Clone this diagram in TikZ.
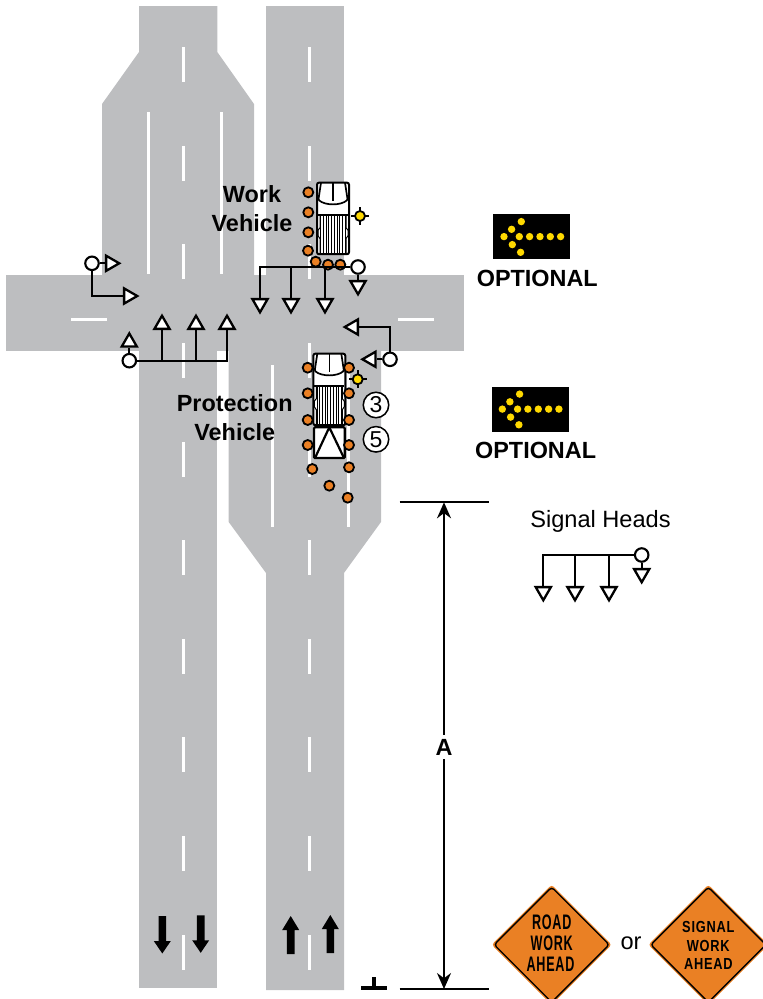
\documentclass[tikz,border=0pt]{standalone}
\usepackage{fontspec}
\usepackage{xcolor}
\usepackage{tikz}
\usetikzlibrary{arrows.meta,shapes.geometric,calc}
\setmainfont{Liberation Sans}
\newfontfamily\signfont[LetterSpace=6]{Liberation Sans}
\definecolor{road1}{RGB}{189,190,192}
\definecolor{orange1}{RGB}{234,128,36}
\definecolor{yellow1}{RGB}{255,217,0}
\tikzset{
  lamp/.style={circle, draw, fill=white, line width=2.1pt, minimum size=13.5pt, inner sep=0pt},
  sighead/.style={regular polygon, regular polygon sides=3, draw, fill=white, line width=2.3pt,
    minimum size=17.5pt, inner sep=0pt, shape border rotate=#1},
  sigline/.style={line width=2.2pt},
  cone/.style={circle, draw, fill=orange1, line width=1.8pt, minimum size=10pt, inner sep=0pt},
  bold lbl/.style={font=\fontsize{23.4}{29}\selectfont\bfseries, align=center, inner sep=0pt},
  plain lbl/.style={font=\fontsize{23.6}{29}\selectfont, inner sep=0pt},
  numcircle/.style={circle, draw, fill=white, line width=1.5pt, minimum size=25.5pt, inner sep=0pt,
    font=\fontsize{23}{23}\selectfont},
  signtxt/.style={xscale=.6, inner sep=0pt, font=\fontsize{21}{21}\signfont\bfseries},
  signtxt2/.style={xscale=.8, inner sep=0pt, font=\fontsize{16}{16}\signfont\bfseries},
  dimline/.style={line width=2pt},
}
% truck seen from above, #1 = left, #2 = top
\newcommand{\drawtruck}[2]{
  \begin{scope}[shift={(#1,#2)}]
    \draw[line width=2pt, fill=white, rounded corners=2pt] (0,0) rectangle (32,71.5);
    \draw[line width=1.7pt, rounded corners=1pt] (4,0) -- (1.4,17) .. controls (8,23) and (24,23) .. (30.6,17) -- (28,0);
    \draw[line width=1.4pt] (16,0) -- (16,18);
    \draw[line width=1.6pt] (1,32) -- (31,32);
    \foreach \sx in {3.8,6.5,9.2,11.9,14.6,17.3,20,22.7,25.4,28.1}
      \draw[line width=1pt] (\sx,33) -- (\sx,71);
    \draw[line width=1pt] (3,33) -- (3,45) -- (1,47.5) -- (1,53) -- (3,56) -- (3,71);
    \draw[line width=1pt] (29,33) -- (29,45) -- (31,47.5) -- (31,53) -- (29,56) -- (29,71);
  \end{scope}
}
% flashing beacon
\newcommand{\drawbeacon}[2]{
  \foreach \a in {0,90,180,270}
    \draw[line width=1.8pt] ([shift={(#1,#2)}]\a:4) -- ([shift={(#1,#2)}]\a:9);
  \draw[line width=1.8pt, fill=yellow1] (#1,#2) circle (5);
}
% arrow board, #1 = left, #2 = top
\newcommand{\drawboard}[2]{
  \fill[black] (#1,#2) rectangle ++(77,45);
  \foreach \dx/\dy in {28/7.3,18.3/15,10.7/22.3,26/22.3,36.3/22.3,46.7/22.3,57/22.3,67.3/22.3,19/30.3,27.3/38}
    \fill[yellow1] ($(#1,#2)+(\dx,\dy)$) circle (3.7);
}
% warning diamond
\newcommand{\drawsign}[2]{
  \fill[orange1, rounded corners=3pt] (#1-60,#2) -- (#1,#2-60) -- (#1+60,#2) -- (#1,#2+60) -- cycle;
  \draw[line width=1.4pt, rounded corners=3pt] (#1-57.5,#2) -- (#1,#2-57.5) -- (#1+57.5,#2) -- (#1,#2+57.5) -- cycle;
}
\begin{document}
\begin{tikzpicture}[x=1pt,y=-1pt]
\useasboundingbox (0,0) rectangle (763,999);
\clip (0,0) rectangle (763,999);

% ----- ROADS -----
\fill[road1] (139,6) -- (217.3,6) -- (217.3,52) -- (254,104) -- (254,275) -- (102,275) -- (102,104) -- (139,52) -- cycle;
\fill[road1] (266,6) rectangle (344,275);
\fill[road1] (6,274.5) rectangle (464,350.7);
\fill[road1] (139,350) rectangle (217,988);
\fill[road1] (228.7,350) -- (381,350) -- (381,522) -- (344,573) -- (344,990) -- (266,990) -- (266,573) -- (228.7,522) -- cycle;

% ----- LANE MARKINGS -----
\foreach \y in {47,145.7,244.3,343,441.6,540.2,638.8,737.4,836,934.6} {
  \fill[white] (181.5,\y) rectangle ++(3.2,35);
  \fill[white] (307.5,\y) rectangle ++(3.2,35);
}
\foreach \x/\ya/\yb in {148.7/112/274,221.3/112/274,272.7/365/527,348.3/365/527}
  \fill[white] (\x-1.3,\ya) rectangle (\x+1.3,\yb);
\fill[white] (71,317.8) rectangle (107,321);
\fill[white] (398,317.8) rectangle (434,321);

% ----- BLACK ARROWS -----
\foreach \x/\t in {162.3/916,200.7/915.3}
  \fill (\x-3.8,\t) -- (\x+3.8,\t) -- (\x+3.8,\t+25) -- (\x+8.5,\t+25) -- (\x,\t+37.5) -- (\x-8.5,\t+25) -- (\x-3.8,\t+25) -- cycle;
\foreach \x/\t in {290.7/916,330.3/915}
  \fill (\x,\t) -- (\x+8.5,\t+14) -- (\x+3.8,\t+14) -- (\x+3.8,\t+38) -- (\x-3.8,\t+38) -- (\x-3.8,\t+14) -- (\x-8.5,\t+14) -- cycle;
\fill (371.8,977) rectangle (376,986);
\fill (361,985.7) rectangle (387,990);

% ----- WORK VEHICLE -----
\drawtruck{317}{182.7}
\drawbeacon{360}{216}
\foreach \x/\y/\n in {308.3/192.3/1,308.3/212.3/2,308.3/232.3/3,308/250.7/4,315.7/261.7/5,328/264.7/6,340.3/264.7/7}
  \node[cone] (cw\n) at (\x,\y) {};
\node[bold lbl] (worklbl) at (252,208.5) {Work\\Vehicle};

% ----- PROTECTION VEHICLE -----
\drawtruck{313.3}{353.7}
\drawbeacon{357.7}{379.3}
\draw[line width=2.2pt, fill=white, rounded corners=1pt] (314,427.3) rectangle (344.7,458);
\draw[line width=2.2pt] (315,458) -- (329.3,427.3) -- (344,458);
\foreach \x/\y/\n in {307.7/367.7/1,349/367.7/2,307.7/393.3/3,349/393.3/4,307.7/420/5,349/420/6,307.7/445/7,349/445/8,312.3/469/9,349/467.3/10,329.3/485.7/11,347.7/497.7/12}
  \node[cone] (cp\n) at (\x,\y) {};
\node[bold lbl] (protlbl) at (234.7,418) {Protection\\Vehicle};
\node[numcircle] (num3) at (376,405) {3};
\node[numcircle] (num5) at (376,439.3) {5};

% ----- SIGNAL HEADS: north side -----
\node[lamp] (sign) at (358,267) {};
\foreach \x/\n in {260/1,291/2,325/3}
  \node[sighead=180] (hn\n) at (\x,303.5) {};
\node[sighead=180] (hn4) at (358,285.5) {};
\draw[sigline] (sign) -- (sign -| hn1) -- (hn1);
\draw[sigline] (sign -| hn2) -- (hn2);
\draw[sigline] (sign -| hn3) -- (hn3);
\draw[sigline] (sign) -- (hn4);

% ----- SIGNAL HEADS: south side -----
\node[lamp] (sigs) at (129.3,360.7) {};
\foreach \x/\n in {162/1,196/2,227/3}
  \node[sighead=0] (hs\n) at (\x,324.5) {};
\node[sighead=0] (hs4) at (129.3,342.2) {};
\draw[sigline] (sigs) -- (sigs -| hs3) -- (hs3);
\draw[sigline] (sigs -| hs1) -- (hs1);
\draw[sigline] (sigs -| hs2) -- (hs2);
\draw[sigline] (sigs) -- (hs4);

% ----- SIGNAL HEADS: west side -----
\node[lamp] (sigw) at (92,263.3) {};
\node[sighead=-90] (hw1) at (110.5,263.3) {};
\node[sighead=-90] (hw2) at (128.5,296) {};
\draw[sigline] (sigw) -- (hw1);
\draw[sigline] (sigw) -- (sigw |- hw2) -- (hw2);

% ----- SIGNAL HEADS: east side -----
\node[lamp] (sige) at (390,359.3) {};
\node[sighead=90] (he1) at (371.2,359.3) {};
\node[sighead=90] (he2) at (353.5,327) {};
\draw[sigline] (sige) -- (he1);
\draw[sigline] (sige) -- (sige |- he2) -- (he2);

% ----- ARROW BOARDS -----
\drawboard{493.3}{214.3}
\node[bold lbl] (opt1) at (537.3,278.5) {OPTIONAL};
\drawboard{491.6}{386.8}
\node[bold lbl] (opt2) at (535.6,450.5) {OPTIONAL};

% ----- DIMENSION A -----
\coordinate (dimtop) at (444,502.3);
\coordinate (dimbot) at (444,989);
\coordinate (dimtl) at (399.7,502.3);
\coordinate (dimtr) at (489,502.3);
\coordinate (dimbl) at (399.7,989);
\coordinate (dimbr) at (489,989);
\node[bold lbl, fill=white, inner ysep=4pt] (dimA) at (444,747) {A};
\draw[dimline] (dimtl) -- (dimtr);
\draw[dimline] (dimbl) -- (dimbr);
\draw[dimline, -{Stealth[length=16pt,width=14pt]}] (dimA) -- (dimtop);
\draw[dimline, -{Stealth[length=16pt,width=14pt]}] (dimA) -- (dimbot);

% ----- LEGEND -----
\node[plain lbl] (leglbl) at (600.5,521) {Signal Heads};
\node[lamp] (sigl) at (641.7,555) {};
\foreach \x/\n in {543.3/1,575/2,609/3}
  \node[sighead=180] (hl\n) at (\x,591.5) {};
\node[sighead=180] (hl4) at (641.7,573.5) {};
\draw[sigline] (sigl) -- (sigl -| hl1) -- (hl1);
\draw[sigline] (sigl -| hl2) -- (hl2);
\draw[sigline] (sigl -| hl3) -- (hl3);
\draw[sigline] (sigl) -- (hl4);

% ----- WARNING SIGNS -----
\drawsign{551.7}{944.7}
\node[signtxt] (s1a) at (551.7,922.3) {ROAD};
\node[signtxt] (s1b) at (551.7,943.3) {WORK};
\node[signtxt] (s1c) at (550.5,964) {AHEAD};
\node[plain lbl] (ortxt) at (631,943) {or};
\drawsign{708.3}{944.7}
\node[signtxt2] (s2a) at (708.3,927.3) {SIGNAL};
\node[signtxt2] (s2b) at (708.3,945.7) {WORK};
\node[signtxt2] (s2c) at (708.3,964) {AHEAD};

\end{tikzpicture}
\end{document}
